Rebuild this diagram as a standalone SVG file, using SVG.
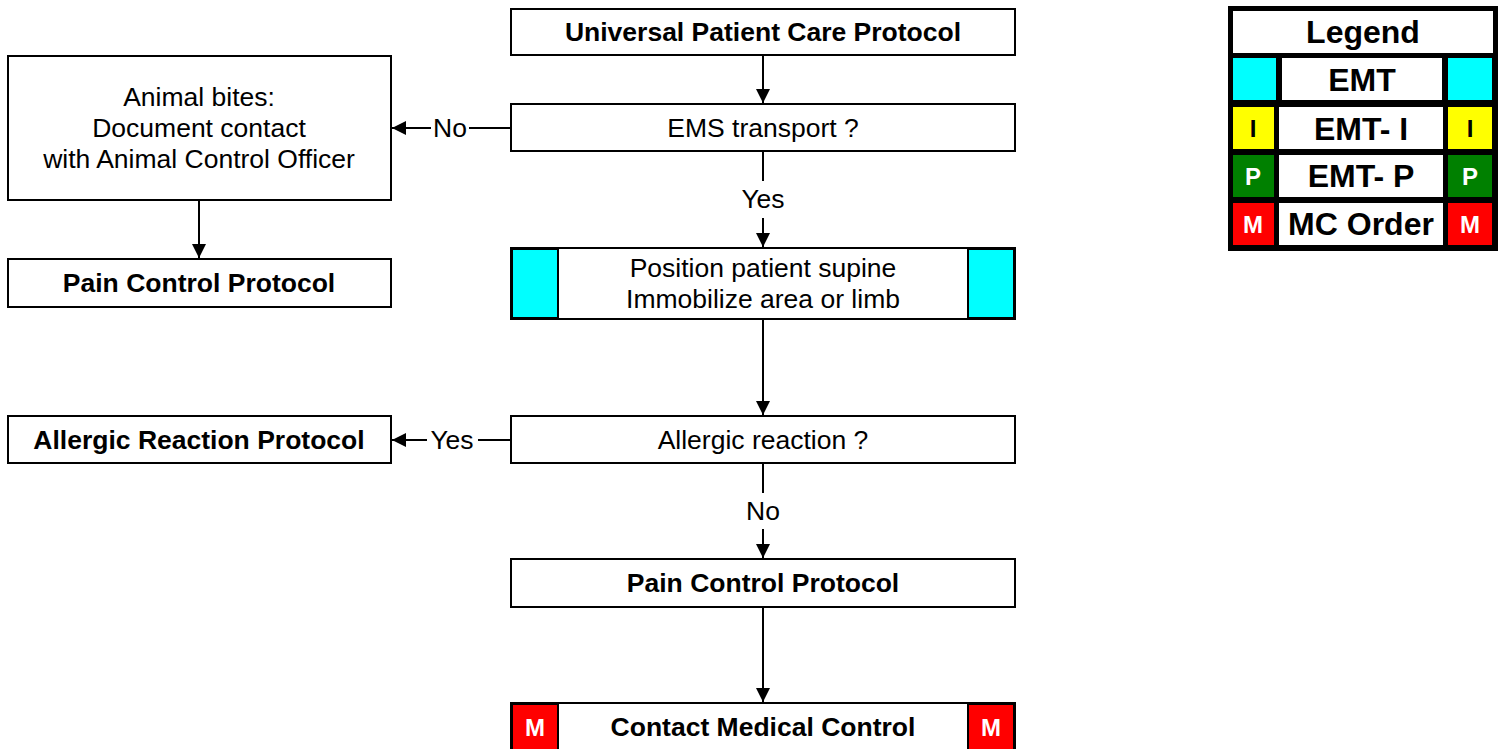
<svg xmlns="http://www.w3.org/2000/svg" width="1505" height="749" viewBox="0 0 1505 749">
<style>
.box{fill:#fff;stroke:#000;stroke-width:2}
.t{font-family:"Liberation Sans",Arial,sans-serif;font-size:26.5px;text-anchor:middle;fill:#000}
.b{font-weight:bold}
.lg{font-family:"Liberation Sans",Arial,sans-serif;font-size:32px;font-weight:bold;text-anchor:middle;fill:#000}
.sq{font-family:"Liberation Sans",Arial,sans-serif;font-size:24px;font-weight:bold;text-anchor:middle}
.ln{stroke:#000;stroke-width:2;fill:none}
</style>
<defs>
<marker id="ah" viewBox="0 0 10 10" refX="10" refY="5" markerWidth="7" markerHeight="7" markerUnits="strokeWidth" orient="auto">
<path d="M0,0 L10,5 L0,10 z" fill="#000"/>
</marker>
</defs>

<g id="connectors">
<line class="ln" x1="763" y1="55" x2="763" y2="103" marker-end="url(#ah)"/>
<line class="ln" x1="763" y1="151" x2="763" y2="181"/>
<text class="t" x="763" y="208">Yes</text>
<line class="ln" x1="763" y1="218" x2="763" y2="247" marker-end="url(#ah)"/>
<line class="ln" x1="763" y1="319" x2="763" y2="415" marker-end="url(#ah)"/>
<line class="ln" x1="763" y1="463" x2="763" y2="493"/>
<text class="t" x="763" y="520">No</text>
<line class="ln" x1="763" y1="529" x2="763" y2="558" marker-end="url(#ah)"/>
<line class="ln" x1="763" y1="607" x2="763" y2="702" marker-end="url(#ah)"/>
<line class="ln" x1="511" y1="128" x2="469" y2="128"/>
<text class="t" x="450" y="137">No</text>
<line class="ln" x1="431" y1="128" x2="392" y2="128" marker-end="url(#ah)"/>
<line class="ln" x1="511" y1="440" x2="478" y2="440"/>
<text class="t" x="452" y="449">Yes</text>
<line class="ln" x1="427" y1="440" x2="392" y2="440" marker-end="url(#ah)"/>
<line class="ln" x1="199" y1="200" x2="199" y2="258" marker-end="url(#ah)"/>
</g>

<g id="universal">
<rect class="box" x="511" y="9" width="504" height="46"/>
<text class="t b" x="763" y="41">Universal Patient Care Protocol</text>
</g>
<g id="ems">
<rect class="box" x="511" y="104" width="504" height="47"/>
<text class="t" x="763" y="137">EMS transport ?</text>
</g>
<g id="position">
<rect class="box" x="511" y="248" width="504" height="71"/>
<rect x="512" y="249" width="46" height="69" fill="#00ffff" stroke="#000" stroke-width="2"/>
<rect x="968" y="249" width="46" height="69" fill="#00ffff" stroke="#000" stroke-width="2"/>
<text class="t" x="763" y="277">Position patient supine</text>
<text class="t" x="763" y="308">Immobilize area or limb</text>
</g>
<g id="allergic">
<rect class="box" x="511" y="416" width="504" height="47"/>
<text class="t" x="763" y="449">Allergic reaction ?</text>
</g>
<g id="pain">
<rect class="box" x="511" y="559" width="504" height="48"/>
<text class="t b" x="763" y="592">Pain Control Protocol</text>
</g>
<g id="contact">
<rect class="box" x="511" y="703" width="504" height="52"/>
<rect x="512" y="704" width="46" height="50" fill="#ff0000" stroke="#000" stroke-width="2"/>
<rect x="968" y="704" width="46" height="50" fill="#ff0000" stroke="#000" stroke-width="2"/>
<text class="sq" x="535" y="736" fill="#fff">M</text>
<text class="sq" x="991" y="736" fill="#fff">M</text>
<text class="t b" x="763" y="736">Contact Medical Control</text>
</g>
<g id="animal">
<rect class="box" x="8" y="56" width="383" height="144"/>
<text class="t" x="199" y="106">Animal bites:</text>
<text class="t" x="199" y="137">Document contact</text>
<text class="t" x="199" y="168">with Animal Control Officer</text>
</g>
<g id="pain-left">
<rect class="box" x="8" y="259" width="383" height="48"/>
<text class="t b" x="199" y="292">Pain Control Protocol</text>
</g>
<g id="allergic-protocol">
<rect class="box" x="8" y="416" width="383" height="47"/>
<text class="t b" x="199" y="449">Allergic Reaction Protocol</text>
</g>

<g id="legend">
<rect x="1228" y="6" width="270" height="245" fill="#000"/>
<rect x="1233" y="11" width="260" height="42" fill="#fff"/>
<text class="lg" x="1363" y="43">Legend</text>
<rect x="1233" y="58" width="43" height="42" fill="#00ffff"/>
<rect x="1282" y="58" width="160" height="42" fill="#fff"/>
<rect x="1448" y="58" width="44" height="42" fill="#00ffff"/>
<text class="lg" x="1362" y="91">EMT</text>
<rect x="1233" y="107" width="41" height="42" fill="#ffff00"/>
<rect x="1279" y="107" width="164" height="42" fill="#fff"/>
<rect x="1448" y="107" width="44" height="42" fill="#ffff00"/>
<text class="lg" x="1361" y="140">EMT- I</text>
<text class="sq" x="1253" y="137" fill="#000">I</text>
<text class="sq" x="1470" y="137" fill="#000">I</text>
<rect x="1233" y="155" width="41" height="42" fill="#008000"/>
<rect x="1279" y="155" width="164" height="42" fill="#fff"/>
<rect x="1448" y="155" width="44" height="42" fill="#008000"/>
<text class="lg" x="1361" y="187">EMT- P</text>
<text class="sq" x="1253" y="185" fill="#fff">P</text>
<text class="sq" x="1470" y="185" fill="#fff">P</text>
<rect x="1233" y="203" width="41" height="42" fill="#ff0000"/>
<rect x="1279" y="203" width="164" height="42" fill="#fff"/>
<rect x="1448" y="203" width="44" height="42" fill="#ff0000"/>
<text class="lg" x="1361" y="235">MC Order</text>
<text class="sq" x="1253" y="233" fill="#fff">M</text>
<text class="sq" x="1470" y="233" fill="#fff">M</text>
</g>
</svg>
